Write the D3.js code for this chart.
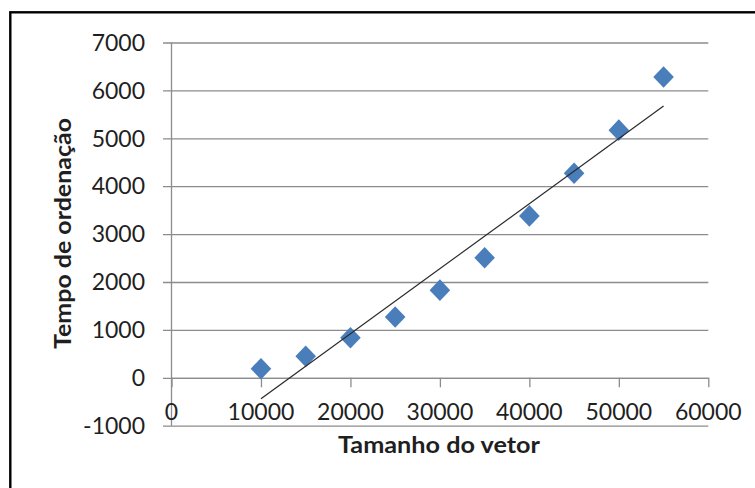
<!DOCTYPE html>
<html>
<head>
<meta charset="utf-8">
<script src="https://cdn.jsdelivr.net/npm/d3@7"></script>
<style>
  html, body { margin: 0; padding: 0; background: #fff; }
  svg { display: block; }
  text { font-family: Lato, "Open Sans", sans-serif; fill: #1f1f1f; }
</style>
</head>
<body>
<svg id="chart" width="755" height="488"></svg>
<script>
// Data
const vectorSizes = [10000, 15000, 20000, 25000, 30000, 35000, 40000, 45000, 50000, 55000];
const sortTimes   = [190, 450, 835, 1270, 1830, 2505, 3380, 4270, 5170, 6280];
const xTicks = [0, 10000, 20000, 30000, 40000, 50000, 60000];
const yTicks = [-1000, 0, 1000, 2000, 3000, 4000, 5000, 6000, 7000];
const xTitle = "Tamanho do vetor";
const yTitle = "Tempo de ordenação";

const svg = d3.select("#chart");

// frame
svg.append("rect")
  .attr("x", 10.3).attr("y", 12.3)
  .attr("width", 900).attr("height", 700)
  .attr("fill", "none").attr("stroke", "#000").attr("stroke-width", 2.4);

const x = d3.scaleLinear().domain([0, 60000]).range([171.5, 708.3]);
const y = d3.scaleLinear().domain([-1000, 7000]).range([425.7, 42.5]);

const gridColor = "#8c8c8c";

// horizontal gridlines with left tick
const yAxis = d3.axisLeft(y).tickValues(yTicks).tickSize(-(x.range()[1] - x.range()[0])).tickSizeOuter(0).tickPadding(0).tickFormat("");
const gY = svg.append("g").attr("transform", `translate(${x.range()[0]},0)`).call(yAxis);
gY.select(".domain").remove();
gY.selectAll(".tick line").attr("stroke", gridColor).attr("stroke-width", 1.3)
  .attr("x1", -8.5);

// y tick labels
svg.append("g").selectAll("text").data(yTicks).join("text")
  .attr("x", 145).attr("y", d => y(d)).attr("dy", "0.36em")
  .attr("text-anchor", "end").attr("font-size", 23)
  .text(d => d);

// y axis vertical line
svg.append("line")
  .attr("x1", x(0)).attr("x2", x(0))
  .attr("y1", y(7000)).attr("y2", y(-1000))
  .attr("stroke", gridColor).attr("stroke-width", 1.3);

// x axis at y = 0
const xAxis = d3.axisBottom(x).tickValues(xTicks).tickSize(9.5).tickSizeOuter(0).tickFormat("");
const gX = svg.append("g").attr("transform", `translate(0,${y(0)})`).call(xAxis);
gX.select(".domain").attr("stroke", gridColor).attr("stroke-width", 1.3);
gX.selectAll(".tick line").attr("stroke", gridColor).attr("stroke-width", 1.3);

// x tick labels
svg.append("g").selectAll("text").data(xTicks).join("text")
  .attr("x", d => x(d)).attr("y", 420)
  .attr("text-anchor", "middle").attr("font-size", 23)
  .text(d => d);

// trendline (least squares linear fit)
const n = vectorSizes.length;
const mx = d3.mean(vectorSizes), my = d3.mean(sortTimes);
let sxy = 0, sxx = 0;
for (let i = 0; i < n; i++) {
  sxy += (vectorSizes[i] - mx) * (sortTimes[i] - my);
  sxx += (vectorSizes[i] - mx) ** 2;
}
const slope = sxy / sxx, intercept = my - slope * mx;
const x0 = d3.min(vectorSizes), x1 = d3.max(vectorSizes);

// points
const diamond = "M0,-10.8L10.3,0L0,10.8L-10.3,0Z";
svg.append("g").selectAll("path").data(vectorSizes).join("path")
  .attr("d", diamond)
  .attr("transform", (d, i) => `translate(${x(d)},${y(sortTimes[i])})`)
  .attr("fill", "#4a7ebb");

svg.append("line")
  .attr("x1", x(x0)).attr("y1", y(slope * x0 + intercept))
  .attr("x2", x(x1)).attr("y2", y(slope * x1 + intercept))
  .attr("stroke", "#2b2b2b").attr("stroke-width", 1.2);

// axis titles
svg.append("text")
  .attr("x", 338).attr("y", 453)
  .attr("font-size", 22).attr("font-weight", "bold").attr("fill", "#111")
  .attr("textLength", 202).attr("lengthAdjust", "spacingAndGlyphs")
  .text(xTitle);

svg.append("text")
  .attr("transform", "translate(71,349) rotate(-90)")
  .attr("font-size", 23.5).attr("font-weight", "bold").attr("fill", "#111")
  .attr("textLength", 231).attr("lengthAdjust", "spacingAndGlyphs")
  .text(yTitle);
</script>
</body>
</html>
